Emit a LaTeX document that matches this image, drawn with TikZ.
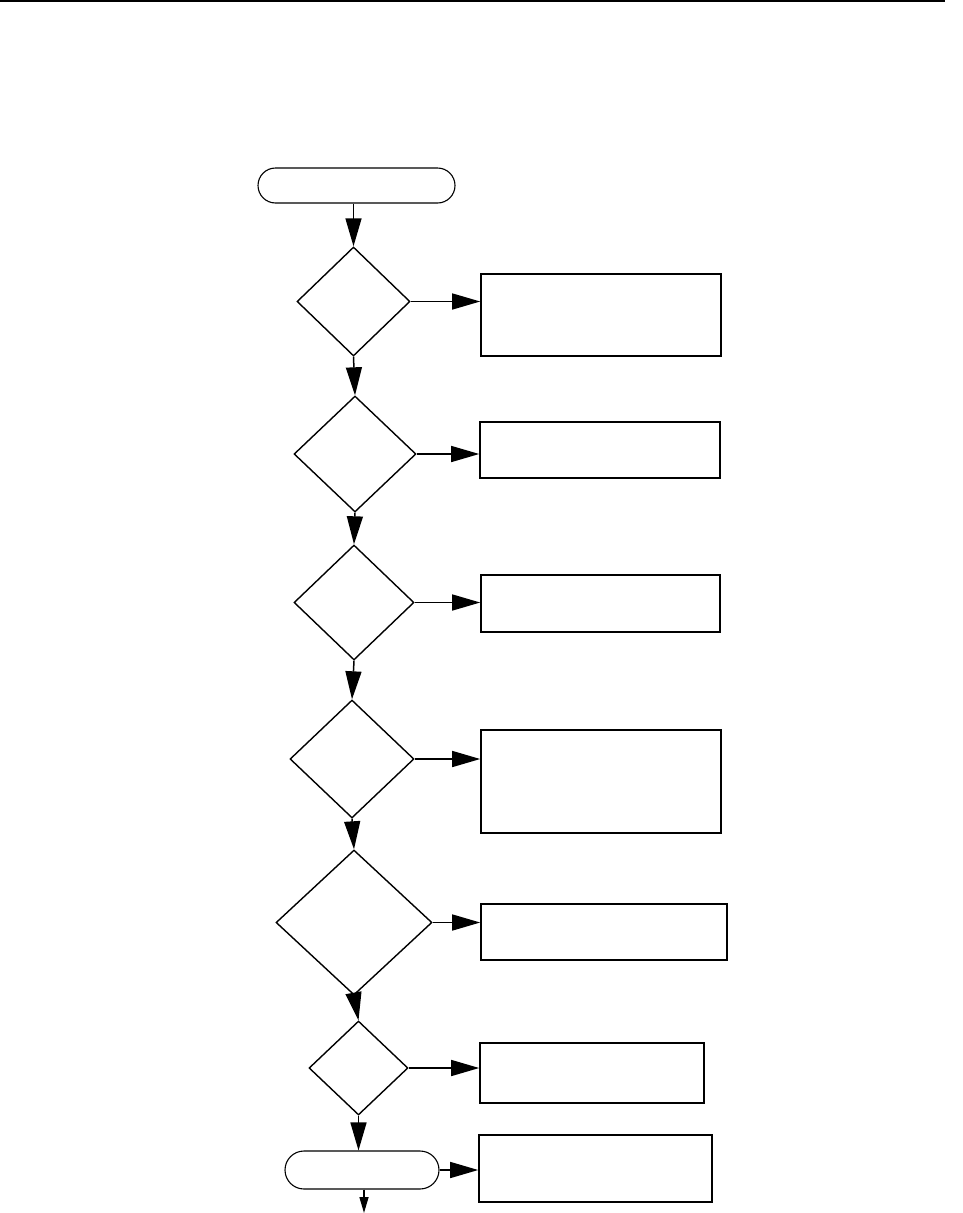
\documentclass[tikz,border=0pt]{standalone}
\usetikzlibrary{shapes.geometric,shapes.misc,arrows.meta}
\begin{document}
\begin{tikzpicture}[x=1pt,y=-1pt,
  dec/.style={draw,diamond,inner sep=0pt,line width=1.4pt},
  boxn/.style={draw,rectangle,inner sep=0pt,line width=1.6pt},
  term/.style={draw,rounded rectangle,inner sep=0pt,line width=1.1pt},
  arr/.style={line width=1.5pt,-{Triangle[length=28pt,width=16pt]}},
  arrs/.style={line width=1.5pt,-{Triangle[length=16pt,width=9pt]}}]
\useasboundingbox (0,0) rectangle (963,1213);
\coordinate (tl) at (0,1);
\coordinate (tr) at (945,1);
\draw[line width=2pt] (tl) -- (tr);
% terminals
\node[term,minimum width=197pt,minimum height=35pt] (start) at (356.5,185.5) {};
\node[term,minimum width=154pt,minimum height=38pt] (stop) at (362,1170) {};
% decisions
\node[dec,minimum width=113pt,minimum height=109pt] (d1) at (353.5,301.5) {};
\node[dec,minimum width=122pt,minimum height=116pt] (d2) at (355,454) {};
\node[dec,minimum width=120pt,minimum height=115pt] (d3) at (354,602.5) {};
\node[dec,minimum width=124pt,minimum height=118pt] (d4) at (352,759) {};
\node[dec,minimum width=156pt,minimum height=145pt] (d5) at (354,922.5) {};
\node[dec,minimum width=99pt,minimum height=94pt] (d6) at (358.5,1068) {};
% boxes
\node[boxn,minimum width=240pt,minimum height=82pt] (b1) at (601,315) {};
\node[boxn,minimum width=240pt,minimum height=56pt] (b2) at (600,450) {};
\node[boxn,minimum width=239pt,minimum height=57pt] (b3) at (600.5,603.5) {};
\node[boxn,minimum width=240pt,minimum height=103pt] (b4) at (601,781.5) {};
\node[boxn,minimum width=246pt,minimum height=56pt] (b5) at (604,932) {};
\node[boxn,minimum width=224pt,minimum height=60pt] (b6) at (592,1073) {};
\node[boxn,minimum width=233pt,minimum height=67pt] (b7) at (595.5,1168.5) {};
% vertical arrows
\draw[arr] (d1.north |- start.south) -- (d1.north);
\draw[arr] (d1.south) -- (d2.north);
\draw[arr] (d2.south) -- (d3.north);
\draw[arr] (d3.south) -- (d4.north);
\draw[arr] (d4.south) -- (d5.north);
\draw[arr] (d5.south) -- (d6.north);
\draw[arr] (d6.south) -- (d6.south |- stop.north);
\coordinate (out) at (364,1213);
\draw[arrs] (out |- stop.south) -- (out);
% horizontal arrows
\draw[arr] (d1.east) -- (d1.east -| b1.west);
\draw[arr] (d2.east) -- (d2.east -| b2.west);
\draw[arr] (d3.east) -- (d3.east -| b3.west);
\draw[arr] (d4.east) -- (d4.east -| b4.west);
\draw[arr] (d5.east) -- (d5.east -| b5.west);
\draw[arr] (d6.east) -- (d6.east -| b6.west);
\draw[arr] (stop.east) -- (stop.east -| b7.west);
\end{tikzpicture}
\end{document}
